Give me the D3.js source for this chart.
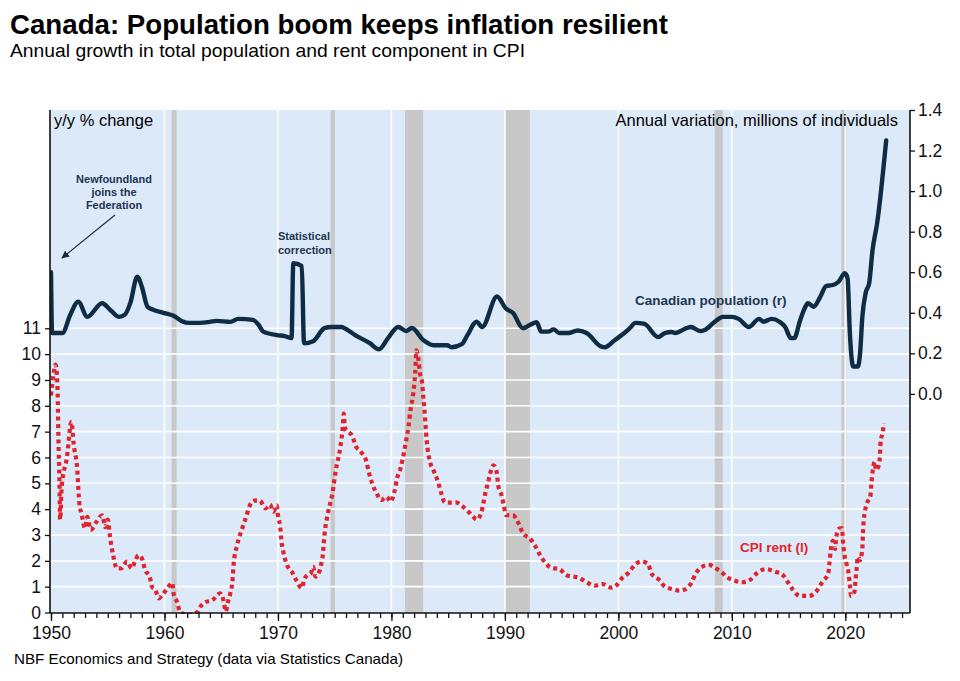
<!DOCTYPE html>
<html><head><meta charset="utf-8">
<script src="https://cdn.jsdelivr.net/npm/d3@7"></script>
<style>
html,body{margin:0;padding:0;background:#fff;}
text{font-family:"Liberation Sans",Arial,Helvetica,sans-serif;}
</style></head>
<body><svg id="c" width="960" height="681"></svg>
<script>
// ---- data ----
const popYears = [1950.0,1950.1,1951.0,1951.7,1952.4,1953.2,1954.5,1955.3,1956.0,1956.5,1957.0,1957.6,1958.0,1958.5,1959.0,1959.9,1960.8,1961.5,1962.2,1963.1,1964.0,1964.6,1965.8,1966.5,1967.8,1968.3,1968.7,1969.9,1970.6,1971.2,1971.35,1972.1,1972.3,1973.1,1974.1,1974.7,1975.6,1976.0,1976.8,1978.1,1978.9,1979.7,1980.6,1981.3,1981.8,1982.8,1983.7,1984.9,1985.3,1986.2,1986.7,1987.5,1988.0,1989.3,1990.1,1990.7,1991.6,1992.2,1992.8,1993.2,1993.8,1994.3,1994.8,1995.6,1996.4,1997.2,1998.5,1998.8,1999.7,2000.3,2001.0,2001.5,2002.3,2003.5,2004.1,2004.7,2005.0,2006.0,2006.4,2007.2,2007.6,2008.5,2009.2,2010.0,2010.6,2011.5,2012.4,2012.8,2013.5,2014.2,2014.7,2015.2,2015.5,2016.0,2016.4,2016.7,2017.2,2017.8,2018.3,2018.9,2019.4,2019.96,2020.2,2020.4,2020.7,2021.1,2021.3,2021.5,2021.8,2022.1,2022.4,2022.8,2023.6];
const popValues = [0.60,0.30,0.30,0.39,0.455,0.38,0.447,0.41,0.38,0.39,0.45,0.578,0.53,0.43,0.415,0.40,0.385,0.36,0.35,0.35,0.355,0.36,0.355,0.37,0.365,0.34,0.307,0.29,0.285,0.275,0.644,0.63,0.25,0.26,0.324,0.33,0.33,0.32,0.29,0.25,0.22,0.275,0.33,0.31,0.325,0.266,0.24,0.24,0.23,0.245,0.29,0.356,0.33,0.48,0.42,0.40,0.324,0.34,0.353,0.307,0.307,0.318,0.30,0.30,0.313,0.30,0.233,0.23,0.266,0.29,0.324,0.35,0.345,0.28,0.30,0.305,0.30,0.324,0.33,0.31,0.315,0.356,0.38,0.38,0.37,0.33,0.37,0.356,0.37,0.356,0.33,0.275,0.275,0.36,0.42,0.447,0.43,0.48,0.532,0.537,0.553,0.595,0.57,0.30,0.135,0.135,0.20,0.38,0.50,0.545,0.71,0.84,1.25];

const rentYears = [1950.0,1950.1,1950.25,1950.4,1950.5,1950.6,1950.65,1950.75,1950.8,1950.95,1951.4,1951.8,1952.0,1952.3,1952.5,1952.7,1953.0,1953.2,1953.5,1954.0,1954.5,1954.8,1955.0,1955.2,1955.5,1955.8,1956.2,1956.7,1957.1,1957.4,1957.7,1958.0,1958.3,1958.7,1958.9,1959.2,1959.5,1959.8,1960.2,1960.7,1960.8,1961.1,1961.4,1962.2,1963.0,1963.1,1963.6,1964.2,1964.9,1965.2,1965.4,1965.6,1965.8,1966.0,1966.1,1966.4,1966.9,1967.2,1967.5,1967.9,1968.4,1968.9,1969.3,1969.6,1969.9,1970.0,1970.2,1970.3,1970.5,1970.8,1971.3,1971.6,1972.1,1972.3,1972.6,1972.9,1973.1,1973.3,1973.5,1973.8,1973.95,1974.1,1974.4,1974.8,1975.1,1975.5,1975.7,1975.8,1975.9,1976.2,1976.5,1976.9,1977.3,1977.8,1978.0,1978.3,1978.7,1979.1,1979.6,1979.9,1980.3,1980.5,1980.8,1981.0,1981.3,1981.5,1981.7,1981.9,1982.1,1982.2,1982.4,1982.5,1982.7,1982.8,1982.9,1983.0,1983.1,1983.4,1983.7,1984.1,1984.4,1984.7,1985.3,1985.7,1986.2,1986.8,1987.2,1987.5,1987.9,1988.1,1988.3,1988.5,1988.7,1989.0,1989.3,1989.4,1989.7,1989.9,1990.1,1990.7,1991.2,1991.6,1992.2,1992.7,1993.1,1993.6,1994.1,1994.8,1995.4,1996.0,1996.5,1997.2,1997.9,1998.6,1999.4,1999.8,2000.3,2000.9,2001.45,2002.0,2002.6,2002.9,2003.6,2004.1,2004.8,2005.3,2005.9,2006.4,2006.8,2007.3,2008.0,2008.6,2009.2,2009.5,2010.1,2010.9,2011.6,2012.2,2013.0,2013.8,2014.5,2015.0,2015.4,2016.0,2016.8,2017.5,2018.0,2018.5,2018.6,2018.7,2018.9,2019.1,2019.2,2019.5,2019.7,2019.8,2019.9,2020.1,2020.3,2020.4,2020.5,2020.7,2020.8,2020.9,2021.0,2021.1,2021.3,2021.5,2021.55,2021.6,2021.7,2021.9,2022.2,2022.3,2022.4,2022.6,2022.7,2022.9,2023.05,2023.1,2023.3,2023.4];
const rentValues = [8.4,8.8,9.3,9.6,9.3,8.2,6.8,5.0,3.6,4.9,6.0,7.38,6.5,5.6,4.22,3.8,3.26,3.7,3.2,3.5,3.76,3.3,3.6,2.93,2.16,1.71,1.71,1.97,1.71,1.97,2.22,2.1,1.64,1.38,1.0,0.87,0.55,0.68,0.9,1.15,0.74,0.42,0.0,-0.1,0.05,0.17,0.4,0.47,0.74,0.47,0.04,0.42,0.74,1.26,1.9,2.6,3.32,3.7,4.12,4.33,4.33,4.03,4.18,3.9,4.15,3.76,3.32,2.8,2.29,1.84,1.52,1.26,0.94,1.26,1.45,1.52,1.77,1.39,1.45,1.84,2.22,3.0,3.84,4.61,5.51,6.41,7.12,7.7,7.15,6.99,6.87,6.41,6.22,5.83,5.45,5.0,4.61,4.35,4.48,4.29,4.74,5.2,5.58,5.96,6.67,7.19,7.9,8.4,9.3,10.15,9.7,9.3,8.9,8.4,7.9,7.3,6.7,5.83,5.51,5.06,4.61,4.26,4.25,4.26,4.13,3.9,3.71,3.6,3.84,4.22,4.67,5.0,5.38,5.7,5.38,4.93,4.55,4.16,3.77,3.77,3.45,3.06,2.87,2.55,2.22,1.9,1.73,1.68,1.45,1.39,1.35,1.17,1.04,1.1,0.96,1.04,1.32,1.54,1.84,1.97,1.9,1.52,1.26,1.0,0.9,0.85,0.9,1.13,1.49,1.75,1.84,1.71,1.52,1.39,1.26,1.17,1.26,1.52,1.68,1.58,1.45,1.13,0.87,0.64,0.64,0.85,1.2,1.52,1.9,2.35,2.77,2.46,2.93,3.26,3.26,2.74,2.3,1.9,1.48,1.06,0.64,0.74,0.8,1.26,1.71,2.16,2.03,2.48,3.0,3.45,3.84,4.22,4.48,5.0,5.45,5.83,5.51,5.64,6.05,6.54,7.0,7.32];

const recessionStarts = [1960.63,1974.64,1981.2,1990.0,2008.5,2019.66];
const recessionEnds   = [1961.07,1975.02,1982.8,1992.2,2009.2,2020.1];

const leftTicks = [0,1,2,3,4,5,6,7,8,9,10,11];
const rightTicks = [0.0,0.2,0.4,0.6,0.8,1.0,1.2,1.4];
const decadeTicks = [1950,1960,1970,1980,1990,2000,2010,2020];
const yearTicks = d3.range(1950, 2026);

const titleText = "Canada: Population boom keeps inflation resilient";
const subtitleText = "Annual growth in total population and rent component in CPI";
const sourceText = "NBF Economics and Strategy (data via Statistics Canada)";

// ---- layout ----
const L = 50, R = 910, T = 110, B = 613;
const svg = d3.select("#c");
const x = d3.scaleLinear().domain([1950, 2025.7]).range([51, 910]);
const yL = d3.scaleLinear().domain([0, 19.45]).range([612.5, 110]);
const yR = d3.scaleLinear().domain([-1.078, 1.4]).range([612.5, 110]);

const navy = "#0f2c45", red = "#e0242e";

svg.append("clipPath").attr("id","clip").append("rect")
  .attr("x", L).attr("y", T).attr("width", R - L).attr("height", B - T + 1);

svg.append("rect").attr("x", L).attr("y", T).attr("width", R - L).attr("height", B - T)
  .attr("fill", "#dce9f8");

// recession bars
svg.append("g").selectAll("rect").data(recessionStarts).join("rect")
  .attr("x", (d) => x(d))
  .attr("width", (d, i) => x(recessionEnds[i]) - x(d))
  .attr("y", T).attr("height", B - T)
  .attr("fill", "#c8c8c8");

// gridlines
svg.append("g").selectAll("line").data(leftTicks.slice(1)).join("line")
  .attr("x1", L).attr("x2", R).attr("y1", d => yL(d)).attr("y2", d => yL(d))
  .attr("stroke", "#ffffff").attr("stroke-width", 1.6);
svg.append("g").selectAll("line").data(decadeTicks.slice(1)).join("line")
  .attr("x1", d => x(d)).attr("x2", d => x(d)).attr("y1", T).attr("y2", B)
  .attr("stroke", "#ffffff").attr("stroke-width", 1.6);

// lines
const gLines = svg.append("g").attr("clip-path", "url(#clip)");
const rentData = rentYears.map((yr, i) => [yr, rentValues[i]]);
const popData = popYears.map((yr, i) => [yr, popValues[i]]);
gLines.append("path").datum(rentData)
  .attr("d", d3.line().x(d => x(d[0])).y(d => yL(d[1])).curve(d3.curveMonotoneX))
  .attr("fill", "none").attr("stroke", red).attr("stroke-width", 4.2)
  .attr("stroke-dasharray", "4,3.6");
gLines.append("path").datum(popData)
  .attr("d", d3.line().x(d => x(d[0])).y(d => yR(d[1])).curve(d3.curveMonotoneX))
  .attr("fill", "none").attr("stroke", navy).attr("stroke-width", 4.4)
  .attr("stroke-linejoin", "round").attr("stroke-linecap", "round");

// axes
const tickFont = 17.5;
const gl = svg.append("g").attr("transform", `translate(${L},0)`)
  .call(d3.axisLeft(yL).tickValues(leftTicks).tickSize(5).tickSizeOuter(0).tickPadding(4));
const gr = svg.append("g").attr("transform", `translate(${R},0)`)
  .call(d3.axisRight(yR).tickValues(rightTicks).tickFormat(d3.format(".1f")).tickSize(5).tickSizeOuter(0).tickPadding(3));
const gbMinor = svg.append("g").attr("transform", `translate(0,${B})`)
  .call(d3.axisBottom(x).tickValues(yearTicks).tickSize(5).tickFormat(""));
const gb = svg.append("g").attr("transform", `translate(0,${B})`)
  .call(d3.axisBottom(x).tickValues(decadeTicks).tickSize(8).tickSizeOuter(0).tickFormat(d3.format("d")).tickPadding(6));
[gl, gr, gbMinor, gb].forEach(g => {
  g.select(".domain").remove();
  g.selectAll("line").attr("stroke", "#111").attr("stroke-width", 1.3);
  g.selectAll("text").attr("font-size", tickFont).attr("fill", "#111")
    .style("font-family", '"Liberation Sans",Arial,sans-serif');
});
// frame lines
svg.append("line").attr("x1", L).attr("x2", L).attr("y1", T).attr("y2", B).attr("stroke", "#111").attr("stroke-width", 1.6);
svg.append("line").attr("x1", R).attr("x2", R).attr("y1", T).attr("y2", B).attr("stroke", "#111").attr("stroke-width", 1.6);
svg.append("line").attr("x1", L).attr("x2", R).attr("y1", B).attr("y2", B).attr("stroke", "#111").attr("stroke-width", 1.6);

// titles
svg.append("text").attr("x", 10).attr("y", 34).text(titleText)
  .attr("font-size", 27.5).attr("font-weight", "bold").attr("fill", "#000")
  .attr("textLength", 658).attr("lengthAdjust", "spacingAndGlyphs");
svg.append("text").attr("x", 10).attr("y", 57).text(subtitleText)
  .attr("font-size", 18.5).attr("fill", "#000")
  .attr("textLength", 515).attr("lengthAdjust", "spacingAndGlyphs");
svg.append("text").attr("x", 14).attr("y", 664).text(sourceText)
  .attr("font-size", 15).attr("fill", "#000")
  .attr("textLength", 389).attr("lengthAdjust", "spacingAndGlyphs");

svg.append("text").attr("x", 54).attr("y", 126).text("y/y % change")
  .attr("font-size", 16.5).attr("fill", "#000");
svg.append("text").attr("x", 898).attr("y", 126).attr("text-anchor", "end")
  .text("Annual variation, millions of individuals")
  .attr("font-size", 16.5).attr("fill", "#000");

// annotations
const nf = svg.append("text").attr("text-anchor", "middle").attr("font-size", 11)
  .attr("font-weight", "bold").attr("fill", "#1c3550");
["Newfoundland", "joins the", "Federation"].forEach((t, i) =>
  nf.append("tspan").attr("x", 114).attr("y", 183 + i * 13).text(t));

svg.append("defs").append("marker").attr("id", "arr").attr("viewBox", "0 0 10 10")
  .attr("refX", 9).attr("refY", 5).attr("markerWidth", 7).attr("markerHeight", 7)
  .attr("orient", "auto").append("path").attr("d", "M0,0 L10,5 L0,10 z").attr("fill", "#1c2a38");
svg.append("line").attr("x1", 115).attr("y1", 215).attr("x2", 62).attr("y2", 258)
  .attr("stroke", "#1c2a38").attr("stroke-width", 1.1).attr("marker-end", "url(#arr)");

const sc = svg.append("text").attr("font-size", 11).attr("font-weight", "bold").attr("fill", "#1c3550");
["Statistical", "correction"].forEach((t, i) =>
  sc.append("tspan").attr("x", 278).attr("y", 240 + i * 13.5).text(t));

svg.append("text").attr("x", 635).attr("y", 305).text("Canadian population (r)")
  .attr("font-size", 13.5).attr("font-weight", "bold").attr("fill", "#1c3550");
svg.append("text").attr("x", 740).attr("y", 552).text("CPI rent (l)")
  .attr("font-size", 13.5).attr("font-weight", "bold").attr("fill", red);
</script></body></html>
